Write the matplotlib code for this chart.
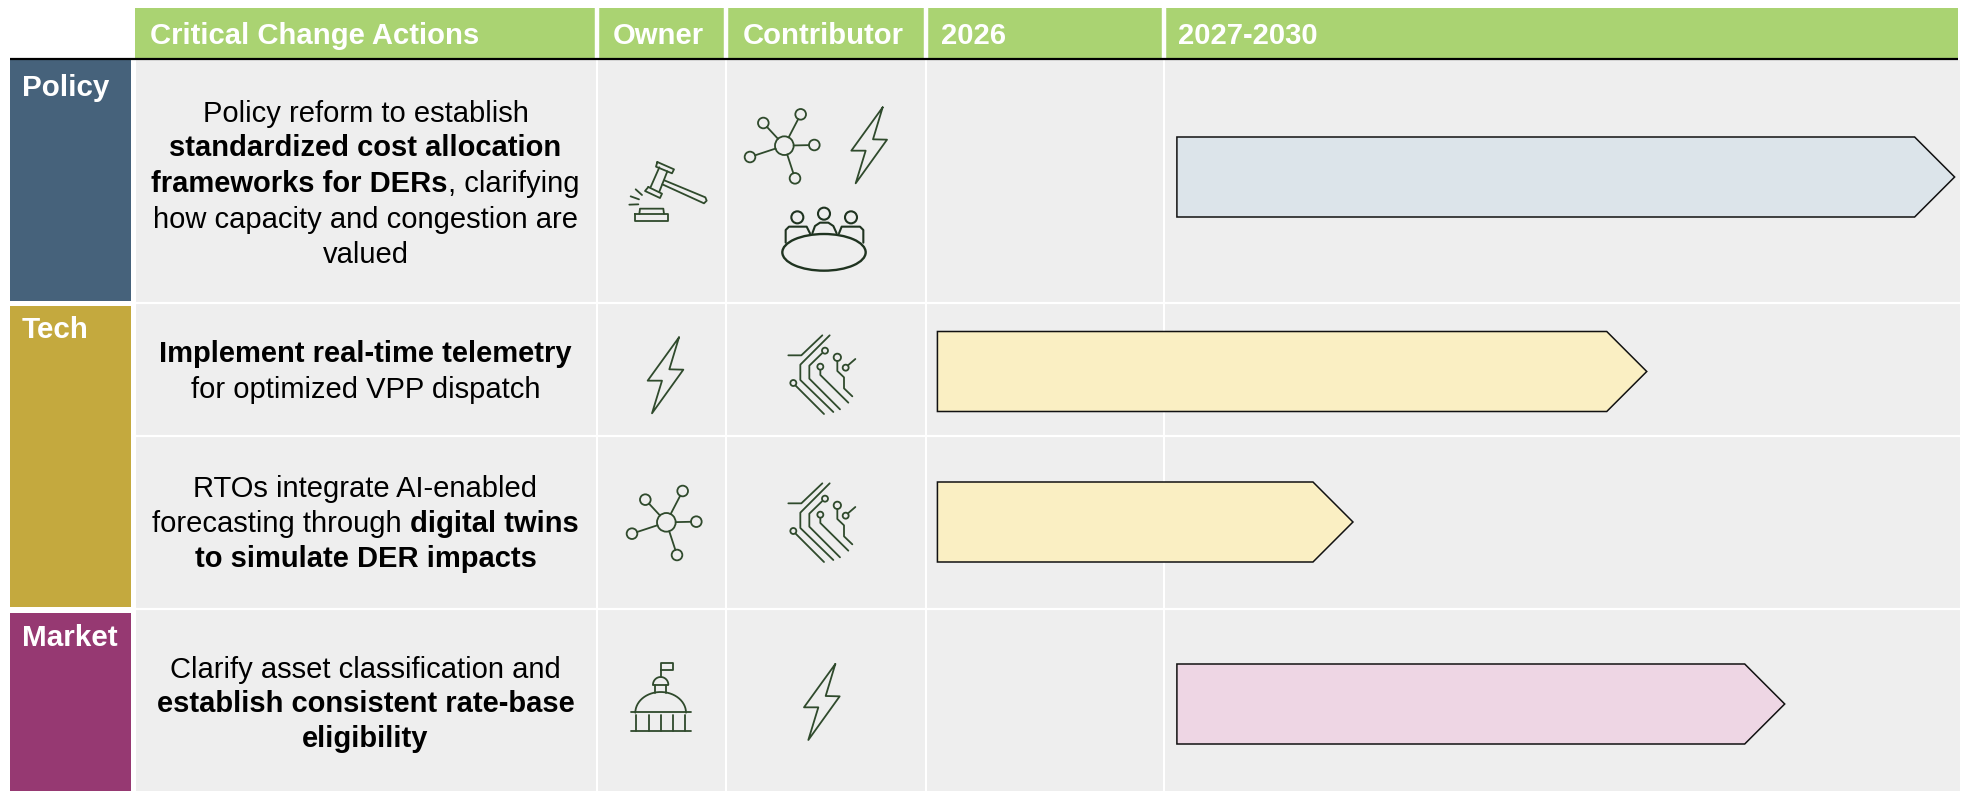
import numpy as np
import matplotlib
matplotlib.use("Agg")
import matplotlib.pyplot as plt
from matplotlib.patches import Rectangle, Polygon, Circle, Ellipse

plt.rcParams['font.family'] = ['Liberation Sans', 'DejaVu Sans']

# table content
headers = ["Critical Change Actions", "Owner", "Contributor", "2026", "2027-2030"]
groups = ["Policy", "Tech", "Market"]
group_colors = ["#46627b", "#c4a93e", "#963972"]
actions = [
    [[("Policy reform to establish", 0)],
     [("standardized cost allocation", 1)],
     [("frameworks for DERs", 1), (", clarifying", 0)],
     [("how capacity and congestion are", 0)],
     [("valued", 0)]],
    [[("Implement real-time telemetry", 1)],
     [("for optimized VPP dispatch", 0)]],
    [[("RTOs integrate AI-enabled", 0)],
     [("forecasting through ", 0), ("digital twins", 1)],
     [("to simulate DER impacts", 1)]],
    [[("Clarify asset classification and", 0)],
     [("establish consistent rate-base", 1)],
     [("eligibility", 1)]],
]
# bars, in years
bar_start = [2027.065, 2026.048, 2026.048, 2027.065]
bar_end = [2030.983, 2029.432, 2027.952, 2030.127]
bar_colors = ["#dce4ea", "#faefc3", "#faefc3", "#eed6e4"]

W, H = 1965, 791
COLS = [136, 597.5, 726.5, 926, 1164, 1960]
ROWS = [60, 302.5, 435.5, 609, 791]
INK = "#2f4a2c"


def year_x(y):
    # 2026 has its own column, 2027-2030 share the last one
    if y < 2027:
        return COLS[3] + (y - 2026) * (COLS[4] - COLS[3])
    return COLS[4] + (y - 2027) * (1958 - COLS[4]) / 4


fig = plt.figure(figsize=(W / 100, H / 100), dpi=100)
ax = fig.add_axes([0, 0, 1, 1])
ax.set_xlim(0, W)
ax.set_ylim(H, 0)
ax.axis("off")
rend = fig.canvas.get_renderer()

# background and grid
ax.add_patch(Rectangle((COLS[0], 60), COLS[-1] - COLS[0], H - 60, fc="#eeeeee", ec="none"))
ax.add_patch(Rectangle((135, 8), 1958 - 135, 50, fc="#aad372", ec="none"))
for x in COLS[1:-1]:
    ax.plot([x, x], [8, 58], color="white", lw=3.2, solid_capstyle="butt")
    ax.plot([x, x], [60, H], color="white", lw=1.5, solid_capstyle="butt")
for y in ROWS[1:-1]:
    ax.plot([COLS[0], COLS[-1]], [y, y], color="white", lw=1.6, solid_capstyle="butt")
ax.plot([10, 1958], [59, 59], color="black", lw=1.6, solid_capstyle="butt", zorder=3)

# header labels
head_x = [150, 613, 743, 941, 1178]
for x, s in zip(head_x, headers):
    ax.text(x, 44.5, s, color="white", fontsize=21.1, fontweight="bold", va="baseline")

# group blocks
block_y = [(60, 301), (306, 607), (613, H)]
label_base = [95.5, 338.5, 646]
for g, c, (y0, y1), b in zip(groups, group_colors, block_y, label_base):
    ax.add_patch(Rectangle((10, y0), 121.5, y1 - y0, fc=c, ec="none"))
    ax.text(22, b, g, color="white", fontsize=21.3, fontweight="bold", va="baseline")


def draw_runs(runs, cx, base, fs=21):
    # mixed regular / bold line, centred on cx
    items = []
    total = 0
    for s, bold in runs:
        w = "bold" if bold else "normal"
        t = ax.text(0, base, "|" + s + "|", fontsize=fs, fontweight=w, va="baseline", color="black")
        bar = ax.text(0, base, "||", fontsize=fs, fontweight=w, va="baseline")
        width = t.get_window_extent(rend).width - bar.get_window_extent(rend).width
        bar.remove()
        t.set_text(s)
        items.append((t, width))
        total += width
    x = cx - total / 2
    for t, width in items:
        t.set_x(x)
        x += width


line_base = [[121.5, 156, 192, 228, 263], [362.5, 397.5], [497, 532, 567], [678, 712.5, 747]]
for lines, bases in zip(actions, line_base):
    for runs, b in zip(lines, bases):
        draw_runs(runs, 365.5, b)

# bars
bar_y = [(137, 217), (331.5, 411.5), (482, 562), (664, 744)]
for s, e, c, (y0, y1) in zip(bar_start, bar_end, bar_colors, bar_y):
    x0, x1 = year_x(s), year_x(e)
    ax.add_patch(Polygon([(x0, y0), (x1 - 40, y0), (x1, (y0 + y1) / 2), (x1 - 40, y1), (x0, y1)],
                         closed=True, fc=c, ec="#111111", lw=1.1, joinstyle="miter", zorder=2))


# icons, traced in crop coordinates (3 units = 1 px)
def pl(ox, oy, pts, closed=False, lw=1.3, color=INK):
    p = np.array(pts, dtype=float) / 3 + [ox, oy]
    if closed:
        p = np.vstack([p, p[0]])
    ax.plot(p[:, 0], p[:, 1], color=color, lw=lw, solid_joinstyle="round", solid_capstyle="round")


def ring(ox, oy, x, y, r, lw=1.3, color=INK):
    ax.add_patch(Circle((ox + x / 3, oy + y / 3), r / 3, fc="none", ec=color, lw=lw))


def bolt(ox, oy):
    pl(ox, oy, [(237, 52), (208, 148), (250, 149), (156, 280), (186, 182), (143, 182)], closed=True)


def network(ox, oy):
    cx, cy, rc = 199, 607, 28
    nodes = [(136, 539), (248, 513), (289, 605), (231, 705), (96, 641)]
    ring(ox, oy, cx, cy, rc)
    for nx, ny in nodes:
        ring(ox, oy, nx, ny, 16)
        d = np.array([nx - cx, ny - cy], dtype=float)
        d = d / np.hypot(*d)
        pl(ox, oy, [(cx + d[0] * rc, cy + d[1] * rc), (nx - d[0] * 16, ny - d[1] * 16)])


def circuit(ox, oy):
    pl(ox, oy, [(565, 106), (604, 106), (667, 46)])
    pl(ox, oy, [(689, 46), (601, 134), (601, 180), (700, 276)])
    pl(ox, oy, [(666, 100), (628, 137), (628, 176), (720, 268)])
    pl(ox, oy, [(661, 150), (661, 165), (745, 248)])
    pl(ox, oy, [(587, 197), (672, 282)])
    pl(ox, oy, [(712, 123), (712, 153), (732, 172), (732, 205), (757, 229)])
    pl(ox, oy, [(744, 136), (766, 117)])
    ring(ox, oy, 675, 92, 9)
    ring(ox, oy, 661, 140, 9)
    ring(ox, oy, 580, 189, 9)
    ring(ox, oy, 712, 112, 11)
    ring(ox, oy, 737, 143, 9)


def gavel(ox, oy):
    pl(ox, oy, [(172, 216), (222, 238), (216, 250), (168, 230)], closed=True)
    pl(ox, oy, [(145, 291), (186, 311), (180, 324), (135, 303)], closed=True)
    pl(ox, oy, [(178, 232), (152, 291)])
    pl(ox, oy, [(202, 244), (178, 305)])
    pl(ox, oy, [(193, 271), (316, 322), (320, 332), (312, 340), (187, 283)])
    pl(ox, oy, [(107, 298), (126, 315)])
    pl(ox, oy, [(92, 319), (117, 328)])
    pl(ox, oy, [(88, 344), (115, 343)])
    pl(ox, oy, [(104, 372), (205, 372), (205, 392), (104, 392)], closed=True)
    pl(ox, oy, [(118, 372), (120, 356), (190, 356), (192, 372)])


def table(ox, oy):
    dark = "#1f3320"
    ax.add_patch(Ellipse((ox + 672 / 3, oy + 487 / 3), 250 / 3, 110 / 3, fc="none", ec=dark, lw=1.7))
    for x, y in [(592, 382), (672, 371), (753, 382)]:
        ring(ox, oy, x, y, 18, lw=1.5, color=dark)
    pl(ox, oy, [(557, 458), (557, 420), (567, 410), (620, 410), (630, 430)], lw=1.5, color=dark)
    pl(ox, oy, [(637, 430), (645, 408), (660, 398), (685, 398), (700, 408), (710, 430)], lw=1.5, color=dark)
    pl(ox, oy, [(717, 430), (725, 410), (780, 410), (790, 420), (790, 458)], lw=1.5, color=dark)


def capitol(ox, oy):
    pl(ox, oy, [(182, 112), (182, 68), (220, 68), (220, 90), (182, 90)])
    t = np.linspace(np.pi, 2 * np.pi, 30)
    pl(ox, oy, np.column_stack([182 + 23 * np.cos(t), 134 + 23 * np.sin(t)]))
    pl(ox, oy, np.column_stack([182 + 76 * np.cos(t), 218 + 62 * np.sin(t)]))
    pl(ox, oy, [(159, 135), (205, 135)])
    pl(ox, oy, [(165, 135), (165, 158)])
    pl(ox, oy, [(199, 135), (199, 158)])
    pl(ox, oy, [(92, 217), (272, 217)])
    pl(ox, oy, [(92, 273), (272, 273)])
    for x in [109, 146, 182, 218, 254]:
        pl(ox, oy, [(x, 226), (x, 272)])


gavel(600, 90)
network(600 + 354 / 3, 90 - 440 / 3)
bolt(600 + 611 / 3, 90)
table(600, 90)
bolt(600, 320)
circuit(600, 320)
network(600, 320)
circuit(600, 320 + 148)
capitol(600, 640)
bolt(600 + 469 / 3, 640 + 20 / 3)

fig.savefig("out.png", dpi=100)
